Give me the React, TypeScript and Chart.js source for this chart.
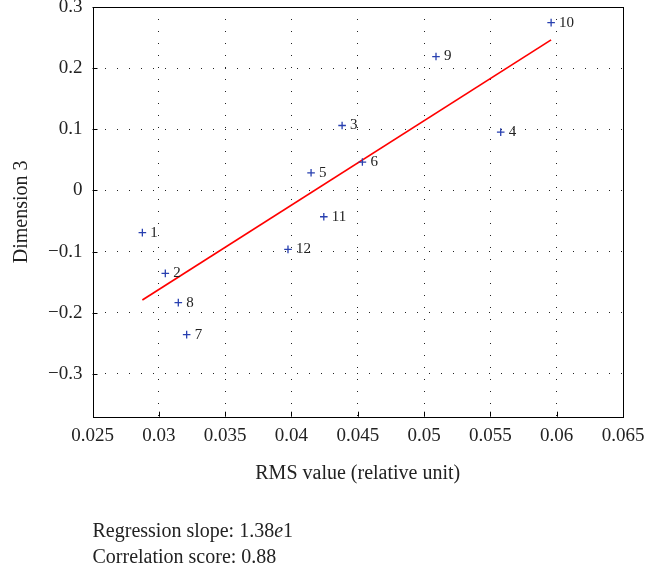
import React, { useEffect, useRef } from "react";
import { Chart, registerables } from "chart.js";

Chart.register(...registerables);

// Recording labels, RMS values and their coordinate on dimension 3
const pointLabels = ["1", "2", "3", "4", "5", "6", "7", "8", "9", "10", "11", "12"];
const rmsValues = [0.02876, 0.03049, 0.04382, 0.05578, 0.04148, 0.04535, 0.0321, 0.03147, 0.0509, 0.05958, 0.04244, 0.03974];
const dimension3 = [-0.069, -0.1356, 0.1062, 0.0954, 0.0289, 0.0464, -0.2358, -0.1835, 0.219, 0.2745, -0.043, -0.0964];

// Fitted regression line
const regressionSlope = 13.8;
const regressionIntercept = -0.576;
const correlationScore = 0.88;

// Axis ticks
const xTicks = [0.025, 0.03, 0.035, 0.04, 0.045, 0.05, 0.055, 0.06, 0.065];
const xTickLabels = ["0.025", "0.03", "0.035", "0.04", "0.045", "0.05", "0.055", "0.06", "0.065"];
const yTicks = [0.3, 0.2, 0.1, 0, -0.1, -0.2, -0.3];
const yTickLabels = ["0.3", "0.2", "0.1", "0", "\u22120.1", "\u22120.2", "\u22120.3"];
const xMin = 0.025;
const xMax = 0.065;
const yMin = -0.37;
const yMax = 0.3;

const SERIF = "'Liberation Serif', 'DejaVu Serif', serif";
const TEXT = "#222";

const decorations = {
  id: "decorations",
  afterDatasetsDraw(chart: any) {
    const { ctx, chartArea, scales } = chart;
    const xs = scales.x;
    const ys = scales.y;
    ctx.save();
    // inward tick marks on the left and bottom axes
    ctx.strokeStyle = "#000";
    ctx.lineWidth = 1;
    ctx.beginPath();
    xTicks.forEach((v) => {
      const px = Math.round(xs.getPixelForValue(v)) + 0.5;
      ctx.moveTo(px, chartArea.bottom);
      ctx.lineTo(px, chartArea.bottom - 5);
    });
    yTicks.forEach((v) => {
      const py = Math.round(ys.getPixelForValue(v)) + 0.5;
      ctx.moveTo(chartArea.left, py);
      ctx.lineTo(chartArea.left + 5, py);
    });
    ctx.stroke();

    // point numbers
    ctx.fillStyle = TEXT;
    ctx.font = `15px ${SERIF}`;
    ctx.textAlign = "left";
    ctx.textBaseline = "middle";
    pointLabels.forEach((lab, i) => {
      const px = xs.getPixelForValue(rmsValues[i]);
      const py = ys.getPixelForValue(dimension3[i]);
      ctx.fillText(lab, px + 8, py);
    });

    // summary lines under the axes
    ctx.font = `20px ${SERIF}`;
    ctx.textBaseline = "alphabetic";
    const x0 = chartArea.left;
    const exp = regressionSlope.toExponential(2).split("e");
    const mant = exp[0];
    const pow = String(parseInt(exp[1], 10));
    const first = `Regression slope: ${mant}`;
    ctx.fillText(first, x0, 537);
    let cx = x0 + ctx.measureText(first).width;
    ctx.font = `italic 20px ${SERIF}`;
    ctx.fillText("e", cx, 537);
    cx += ctx.measureText("e").width;
    ctx.font = `20px ${SERIF}`;
    ctx.fillText(pow, cx, 537);
    ctx.fillText(`Correlation score: ${correlationScore.toFixed(2)}`, x0, 563);
    ctx.restore();
  },
};

export default function App() {
  const ref = useRef<HTMLCanvasElement | null>(null);

  useEffect(() => {
    if (!ref.current) return;
    const points = rmsValues.map((x, i) => ({ x, y: dimension3[i] }));
    const lo = Math.min(...rmsValues);
    const hi = Math.max(...rmsValues);
    const line = [
      { x: lo, y: regressionSlope * lo + regressionIntercept },
      { x: hi, y: regressionSlope * hi + regressionIntercept },
    ];
    // dotted grid at inner ticks only; the frame covers the edges
    const gridColor = (edgeA: number, edgeB: number) => (c: any) => {
      const v = c.tick ? c.tick.value : null;
      if (v === null || Math.abs(v - edgeA) < 1e-9 || Math.abs(v - edgeB) < 1e-9) return "rgba(0,0,0,0)";
      return "#222";
    };
    const chart = new Chart(ref.current, {
      type: "scatter",
      data: {
        datasets: [
          {
            label: "regression",
            type: "line",
            data: line,
            borderColor: "#ff0000",
            borderWidth: 1.7,
            pointRadius: 0,
            fill: false,
            order: 2,
          },
          {
            label: "recordings",
            data: points,
            pointStyle: "cross",
            pointRadius: 3.8,
            borderColor: "#2840b0",
            backgroundColor: "#2840b0",
            borderWidth: 1.3,
            order: 1,
          },
        ],
      },
      options: {
        responsive: false,
        animation: false,
        devicePixelRatio: 1,
        layout: { padding: { left: 0, top: 7, right: 41, bottom: 87.3 } },
        plugins: { legend: { display: false }, tooltip: { enabled: false } },
        scales: {
          x: {
            type: "linear",
            min: xMin,
            max: xMax,
            afterBuildTicks: (s: any) => {
              s.ticks = xTicks.map((value) => ({ value }));
            },
            afterFit: (s: any) => {
              s.height = 69;
              s.paddingLeft = 0;
              s.paddingRight = 0;
            },
            ticks: {
              color: TEXT,
              font: { family: SERIF, size: 19 },
              padding: 8,
              maxRotation: 0,
              autoSkip: false,
              callback: (_v: any, i: number) => xTickLabels[i],
            },
            grid: {
              drawTicks: false,
              color: gridColor(xMin, xMax),
              lineWidth: 1,
            },
            border: { display: false, dash: [1, 11] } as any,
            title: {
              display: true,
              text: "RMS value (relative unit)",
              color: TEXT,
              font: { family: SERIF, size: 20 },
              padding: 0,
            },
          },
          y: {
            type: "linear",
            min: yMin,
            max: yMax,
            afterBuildTicks: (s: any) => {
              s.ticks = yTicks.map((value) => ({ value }));
            },
            afterFit: (s: any) => {
              s.width = 92.5;
              s.paddingTop = 0;
              s.paddingBottom = 0;
            },
            ticks: {
              color: TEXT,
              font: { family: SERIF, size: 19 },
              padding: 10,
              autoSkip: false,
              callback: (_v: any, i: number) => yTickLabels[i],
            },
            grid: {
              drawTicks: false,
              color: gridColor(yMax, yMin),
              lineWidth: 1,
            },
            border: { display: false, dash: [1, 11] } as any,
            title: {
              display: true,
              text: "Dimension 3",
              color: TEXT,
              font: { family: SERIF, size: 20 },
              padding: { top: 10, bottom: 0 },
            },
          },
        },
      },
      plugins: [
        {
          id: "frame",
          beforeDatasetsDraw(chart: any) {
            const { ctx, chartArea } = chart;
            ctx.save();
            ctx.strokeStyle = "#000";
            ctx.lineWidth = 1;
            const l = Math.round(chartArea.left) + 0.5;
            const r = Math.round(chartArea.right) + 0.5;
            const t = Math.round(chartArea.top) + 0.5;
            const b = Math.round(chartArea.bottom) + 0.5;
            ctx.strokeRect(l, t, r - l, b - t);
            ctx.restore();
          },
        },
        decorations,
      ],
    } as any);
    return () => chart.destroy();
  }, []);

  return (
    <div style={{ position: "fixed", left: 0, top: 0, width: 664, height: 573, background: "#fff" }}>
      <canvas ref={ref} width={664} height={573} />
    </div>
  );
}
